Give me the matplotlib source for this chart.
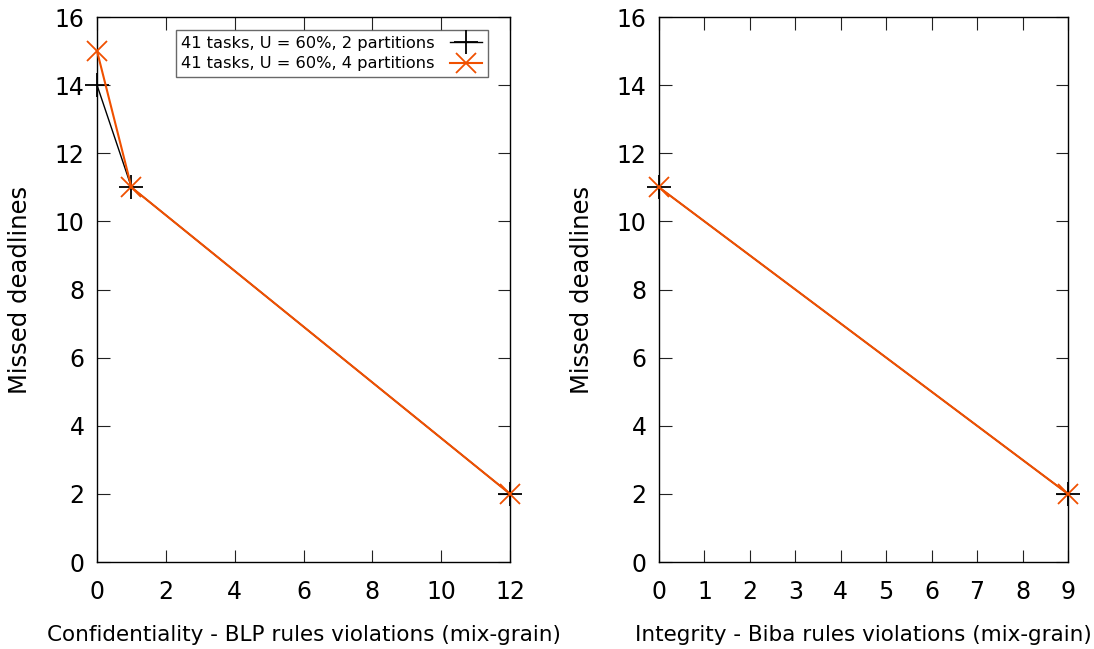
import matplotlib
matplotlib.use("Agg")
import matplotlib.pyplot as plt

# Data
blp_x = [0, 1, 12]
blp_2part = [14, 11, 2]
blp_4part = [15, 11, 2]
biba_x = [0, 9]
biba_2part = [11, 2]
biba_4part = [11, 2]
label_2 = "41 tasks, U = 60%, 2 partitions"
label_4 = "41 tasks, U = 60%, 4 partitions"

ORANGE = "#f05000"

plt.rcParams['font.family'] = ['DejaVu Sans']
fig = plt.figure(figsize=(10.94, 6.49), dpi=100)
ax1 = fig.add_axes([0.0887, 0.134, 0.4662 - 0.0887, 0.9738 - 0.134])
ax2 = fig.add_axes([0.6024, 0.134, 0.9762 - 0.6024, 0.9738 - 0.134])

def style(ax, xmax, xticks, xlabel):
    ax.set_xlim(0, xmax)
    ax.set_ylim(0, 16)
    ax.set_xticks(xticks)
    ax.set_yticks(range(0, 17, 2))
    ax.tick_params(direction='in', top=True, right=True, length=9, width=0.8,
                   color='#222222')
    ax.tick_params(axis='x', labelsize=17, pad=13)
    ax.tick_params(axis='y', labelsize=17, pad=9)
    ax.set_xlabel(xlabel, fontsize=15.5, labelpad=15)
    ax.set_ylabel("Missed deadlines", fontsize=17.5, labelpad=16)
    for s in ax.spines.values():
        s.set_linewidth(1.0)
        s.set_clip_on(False)

ax1.plot(blp_x, blp_2part, color='black', lw=1.0, marker='+', ms=17, mew=1.3,
         label=label_2, clip_on=False, zorder=3)
ax1.plot(blp_x, blp_4part, color=ORANGE, lw=1.5, marker='x', ms=14, mew=1.3,
         label=label_4, clip_on=False, zorder=4)
style(ax1, 12, range(0, 13, 2), "Confidentiality - BLP rules violations (mix-grain)")
leg = ax1.legend(loc='upper right', bbox_to_anchor=(0.958, 0.985), markerfirst=False,
                 fontsize=11.7, frameon=True, fancybox=False, handlelength=2.0,
                 borderpad=0.35, labelspacing=0.35, handletextpad=0.9, borderaxespad=0.3)
leg.get_frame().set_edgecolor('#444444')
leg.get_frame().set_linewidth(1.0)

ax2.plot(biba_x, biba_2part, color='black', lw=1.0, marker='+', ms=17, mew=1.3,
         clip_on=False, zorder=3)
ax2.plot(biba_x, biba_4part, color=ORANGE, lw=1.5, marker='x', ms=14, mew=1.3,
         clip_on=False, zorder=4)
style(ax2, 9, range(0, 10), "Integrity - Biba rules violations (mix-grain)")

fig.savefig("out.png", dpi=100)
